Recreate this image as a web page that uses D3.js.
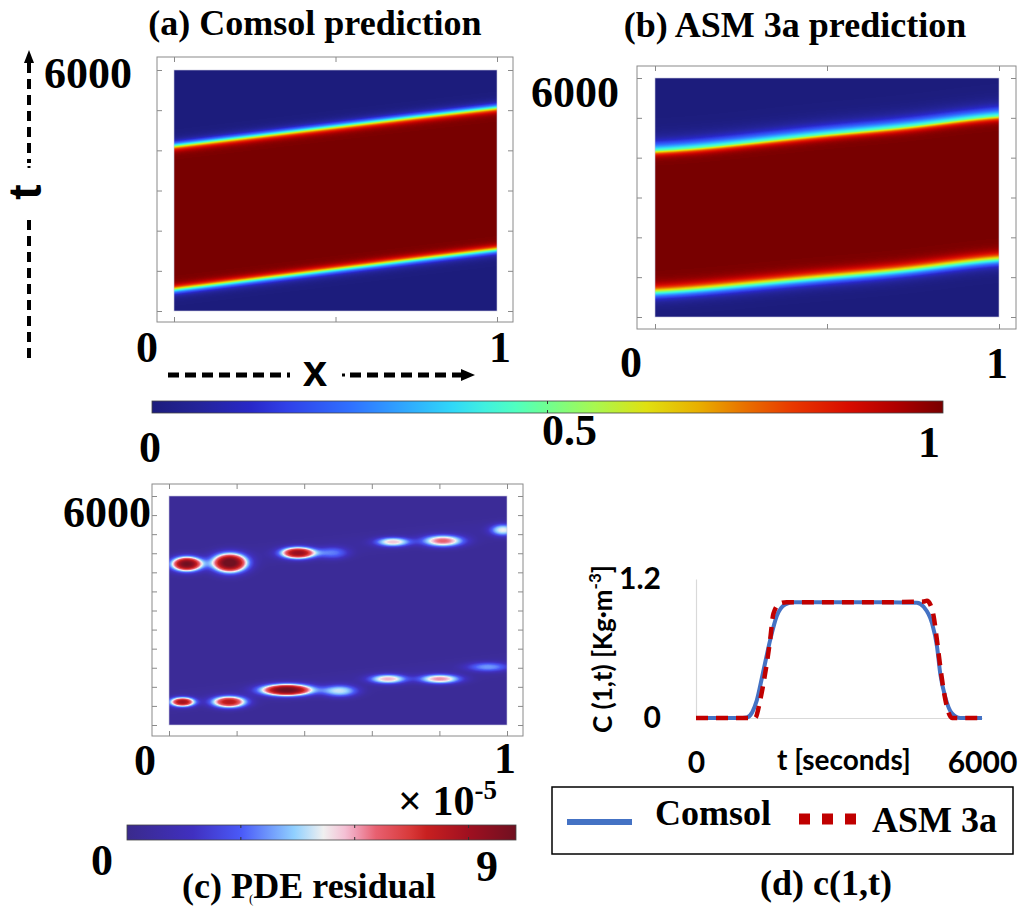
<!DOCTYPE html>
<html>
<head>
<meta charset="utf-8">
<script src="https://cdn.jsdelivr.net/npm/d3@7"></script>
<style>
body { margin: 0; background: #fff; }
svg { display: block; }
text { font-family: "Liberation Serif", "Times New Roman", serif; font-weight: bold; fill: #000; }
.sans { font-family: Lato, "Open Sans", sans-serif; }
.arial { font-family: "Liberation Sans", Arial, sans-serif; }
</style>
</head>
<body>
<div id="chart-area"></div>
<script>
// ---- data ----
// front positions (t in s) of the pulse at sampled x
var frontX = [0, 0.25, 0.5, 0.75, 1];
var comsolLower = [530, 780, 1030, 1280, 1525];
var comsolUpper = [4110, 4350, 4590, 4830, 5060];
var asmLower = [590, 795, 1000, 1170, 1500];
var asmUpper = [4140, 4350, 4600, 4770, 5100];

// PDE residual hot spots (x, t, peak in 1e-5, half sizes)
var blobX = [0.053, 0.180, 0.382, 0.485, 0.663, 0.811, 0.988, 0.040, 0.178, 0.349, 0.506, 0.648, 0.802, 0.944];
var blobT = [4218, 4245, 4507, 4507, 4795, 4821, 5109, 603, 603, 917, 891, 1205, 1205, 1520];
var blobPeak = [9.6, 10.1, 8.6, 2.8, 5.0, 6.0, 4.5, 8.2, 7.8, 9.7, 4.3, 5.2, 5.6, 3.1];
var blobHx = [0.044, 0.050, 0.050, 0.044, 0.050, 0.059, 0.036, 0.036, 0.050, 0.074, 0.050, 0.053, 0.059, 0.059];
var blobHt = [160, 210, 130, 130, 105, 130, 130, 105, 130, 130, 130, 105, 105, 105];

// c(1,t) curves
var comsolT = [0, 900, 1064, 1180, 1274, 1400, 1554, 1694, 1869, 2044, 3000, 4000, 4634, 4775, 4950, 5055, 5125, 5230, 5370, 5545, 6000];
var comsolC = [0, 0, 0.005, 0.05, 0.15, 0.38, 0.67, 0.88, 0.98, 1.0, 1.0, 1.0, 0.995, 0.96, 0.82, 0.62, 0.38, 0.18, 0.04, 0, 0];
var asmT = [0, 1240, 1344, 1449, 1554, 1624, 1764, 1900, 3000, 4000, 4775, 4845, 4915, 4985, 5055, 5125, 5195, 5280, 5370, 6000];
var asmC = [0, 0, 0.15, 0.38, 0.67, 0.9, 0.99, 1.0, 1.0, 1.0, 1.005, 1.012, 0.98, 0.88, 0.67, 0.44, 0.24, 0.07, 0, 0];

// colour tables
var rainbowStops = [0, 0.06, 0.125, 0.17, 0.25, 0.31, 0.38, 0.42, 0.46, 0.5, 0.56, 0.625, 0.69, 0.75, 0.81, 0.88, 0.94, 1];
var rainbowColors = ["#1c1c7c", "#24249a", "#2828c8", "#3040e8", "#3070ff", "#30a0ff", "#30d8f8", "#40f0e0", "#50ffc0", "#70ff90", "#a8f850", "#e0e010", "#e8b000", "#e87000", "#e83800", "#d80c00", "#b00000", "#780000"];
var resStops = [0, 0.17, 0.294, 0.43, 0.505, 0.56, 0.586, 0.64, 0.73, 0.77, 0.877, 1];
var resColors = ["#3a2a8c", "#4030c0", "#4a5af8", "#90d0ff", "#f0f0f0", "#f4c0d4", "#f0a0b8", "#e86070", "#d83838", "#c82020", "#a01020", "#701020"];
var resMax = 10.25;

var svg = d3.select("#chart-area").append("svg")
  .attr("width", 1021).attr("height", 908);
svg.append("rect").attr("width", 1021).attr("height", 908).attr("fill", "#fff");
var defs = svg.append("defs");

function lut(stops, colors) {
  var s = d3.scaleLinear().domain(stops).range(colors).interpolate(d3.interpolateRgb).clamp(true);
  var out = [];
  for (var i = 0; i < 256; i++) out.push(d3.rgb(s(i / 255)));
  return function(v) { return out[Math.max(0, Math.min(255, Math.round(v * 255)))]; };
}
var rainbow = lut(rainbowStops, rainbowColors);
var resCol = lut(resStops, resColors);

function heat(xs, ts, field, color) {
  var x0 = xs.range()[0], x1 = xs.range()[1], y0 = ts.range()[1], y1 = ts.range()[0];
  var w = Math.round(x1 - x0), h = Math.round(y1 - y0);
  var cv = document.createElement("canvas");
  cv.width = w; cv.height = h;
  var ctx = cv.getContext("2d");
  var img = ctx.createImageData(w, h);
  for (var j = 0; j < h; j++) {
    var tv = ts.invert(y0 + j + 0.5);
    for (var i = 0; i < w; i++) {
      var c = color(field(xs.invert(x0 + i + 0.5), tv));
      var k = (j * w + i) * 4;
      img.data[k] = c.r; img.data[k + 1] = c.g; img.data[k + 2] = c.b; img.data[k + 3] = 255;
    }
  }
  ctx.putImageData(img, 0, 0);
  svg.append("image").attr("x", x0).attr("y", y0).attr("width", w).attr("height", h)
    .attr("preserveAspectRatio", "none").attr("href", cv.toDataURL());
  svg.append("rect").attr("x", x0).attr("y", y0).attr("width", w).attr("height", h)
    .attr("fill", "none").attr("stroke", "#c8c8dc").attr("stroke-width", 0.6);
}

function frame(box, xs, ts, xticks, tticks) {
  svg.append("rect").attr("x", box[0]).attr("y", box[1])
    .attr("width", box[2] - box[0]).attr("height", box[3] - box[1])
    .attr("fill", "none").attr("stroke", "#8a8a8a").attr("stroke-width", 1);
  var axes = [
    [d3.axisTop(xs).tickValues(xticks), "translate(0," + box[3] + ")"],
    [d3.axisBottom(xs).tickValues(xticks), "translate(0," + box[1] + ")"],
    [d3.axisRight(ts).tickValues(tticks), "translate(" + box[0] + ",0)"],
    [d3.axisLeft(ts).tickValues(tticks), "translate(" + box[2] + ",0)"]
  ];
  axes.forEach(function(a) {
    var g = svg.append("g").attr("transform", a[1]).call(a[0].tickSize(5).tickFormat(""));
    g.select(".domain").remove();
    g.selectAll("line").attr("stroke", "#8a8a8a");
  });
}

function sig(z) { return 1 / (1 + Math.exp(-z)); }

// smooth front through the read positions
function frontCurve(vals, smooth) {
  if (!smooth) return d3.scaleLinear().domain(frontX).range(vals);
  var f = d3.interpolateBasis([vals[0]].concat(vals, [vals[vals.length - 1]]));
  return function(x) { return f((x * (vals.length - 1) + 1) / (vals.length + 1)); };
}

function pulse(lower, upper, wlIn, wlOut, wuIn, wuOut, smooth) {
  var lo = frontCurve(lower, smooth);
  var up = frontCurve(upper, smooth);
  return function(x, t) {
    var tu = up(x), tl = lo(x);
    var wu = t > tu ? wuOut : wuIn;
    var wl = t < tl ? wlOut : wlIn;
    return sig((t - tl) / wl) * sig((tu - t) / wu);
  };
}

var tTicks = d3.range(0, 6001, 1000);

// ---- (a) Comsol prediction ----
var xA = d3.scaleLinear().domain([0, 1]).range([174, 497]);
var tA = d3.scaleLinear().domain([0, 6000]).range([311, 70]);
heat(xA, tA, pulse(comsolLower, comsolUpper, 55, 65, 55, 65, false), rainbow);
frame([157, 57, 513, 322], xA, tA, [0, 0.5, 1], tTicks);
svg.append("text").attr("x", 315).attr("y", 35).attr("text-anchor", "middle").attr("font-size", 36).text("(a) Comsol prediction");
svg.append("text").attr("x", 44).attr("y", 88).attr("font-size", 44).text("6000");
svg.append("text").attr("x", 136).attr("y", 362).attr("font-size", 44).text("0");
svg.append("text").attr("x", 489).attr("y", 362).attr("font-size", 44).text("1");

// axis arrows of (a)
var arrows = svg.append("g").attr("stroke", "#000").attr("fill", "none");
arrows.append("line").attr("x1", 29).attr("x2", 29).attr("y1", 63).attr("y2", 163)
  .attr("stroke-width", 4).attr("stroke-dasharray", "10,6");
arrows.append("line").attr("x1", 29).attr("x2", 29).attr("y1", 166).attr("y2", 168).attr("stroke-width", 3);
arrows.append("line").attr("x1", 29).attr("x2", 29).attr("y1", 220).attr("y2", 364)
  .attr("stroke-width", 4).attr("stroke-dasharray", "10,6");
svg.append("path").attr("d", "M29,50 L24,63 L34,63 Z").attr("fill", "#000");
arrows.append("line").attr("x1", 168).attr("x2", 290).attr("y1", 375).attr("y2", 375)
  .attr("stroke-width", 5).attr("stroke-dasharray", "11,6");
arrows.append("line").attr("x1", 342).attr("x2", 345).attr("y1", 375).attr("y2", 375).attr("stroke-width", 3);
arrows.append("line").attr("x1", 350).attr("x2", 462).attr("y1", 375).attr("y2", 375)
  .attr("stroke-width", 5).attr("stroke-dasharray", "11,6");
svg.append("path").attr("d", "M475,375 L461,369 L461,381 Z").attr("fill", "#000");
svg.append("text").attr("class", "arial").attr("x", 315).attr("y", 386).attr("text-anchor", "middle").attr("font-size", 44).text("x");
svg.append("text").attr("class", "arial").attr("transform", "translate(41,192) rotate(-90)")
  .attr("text-anchor", "middle").attr("font-size", 46).text("t");

// ---- (b) ASM 3a prediction ----
var xB = d3.scaleLinear().domain([0, 1]).range([655, 999]);
var tB = d3.scaleLinear().domain([0, 6000]).range([317, 78]);
heat(xB, tB, pulse(asmLower, asmUpper, 85, 95, 60, 130, true), rainbow);
frame([637, 66, 1016, 329], xB, tB, [0, 0.5, 1], tTicks);
svg.append("text").attr("x", 795).attr("y", 37).attr("text-anchor", "middle").attr("font-size", 36).text("(b) ASM 3a prediction");
svg.append("text").attr("x", 531).attr("y", 107).attr("font-size", 44).text("6000");
svg.append("text").attr("x", 620).attr("y", 377).attr("font-size", 44).text("0");
svg.append("text").attr("x", 986).attr("y", 378).attr("font-size", 44).text("1");

// ---- shared colour bar ----
var cbA = d3.scaleLinear().domain([0, 1]).range([152, 943]);
var gradA = defs.append("linearGradient").attr("id", "gradA");
gradA.selectAll("stop").data(rainbowStops).enter().append("stop")
  .attr("offset", function(d) { return d; })
  .attr("stop-color", function(d, i) { return rainbowColors[i]; });
svg.append("rect").attr("x", cbA(0)).attr("y", 401).attr("width", cbA(1) - cbA(0)).attr("height", 12)
  .attr("fill", "url(#gradA)").attr("stroke", "#444").attr("stroke-width", 0.8);
svg.append("line").attr("x1", cbA(0.5)).attr("x2", cbA(0.5)).attr("y1", 401).attr("y2", 413)
  .attr("stroke", "#333").attr("stroke-dasharray", "3,6");
svg.append("text").attr("x", 139).attr("y", 462).attr("font-size", 44).text("0");
svg.append("text").attr("x", 542).attr("y", 445).attr("font-size", 44).text("0.5");
svg.append("text").attr("x", 918).attr("y", 457).attr("font-size", 44).text("1");

// ---- (c) PDE residual ----
var xC = d3.scaleLinear().domain([0, 1]).range([169, 507]);
var tC = d3.scaleLinear().domain([0, 6000]).range([725, 496]);
var upperBand = d3.scaleLinear().domain(frontX).range(comsolUpper);
var lowerBand = d3.scaleLinear().domain(frontX).range(comsolLower);
function residual(x, t) {
  // faint glow along both fronts
  var du = (t - upperBand(x) - 80) / 260, dl = (t - lowerBand(x) - 60) / 260;
  var v = 0.35 + 0.3 * Math.exp(-du * du) + 0.3 * Math.exp(-dl * dl);
  for (var i = 0; i < blobX.length; i++) {
    var dx = (x - blobX[i]) / (blobHx[i] * 1.08), dt = (t - blobT[i]) / (blobHt[i] * 1.25);
    var r2 = dx * dx + dt * dt;
    v += blobPeak[i] * Math.exp(-Math.pow(r2, 1.25));
  }
  return v / resMax;
}
heat(xC, tC, residual, resCol);
frame([152, 484, 523, 736], xC, tC, d3.range(0, 1.01, 0.2), d3.range(0, 6001, 500));
svg.append("text").attr("x", 151).attr("y", 527).attr("text-anchor", "end").attr("font-size", 44).text("6000");
svg.append("text").attr("x", 134).attr("y", 775).attr("font-size", 44).text("0");
svg.append("text").attr("x", 494).attr("y", 773).attr("font-size", 44).text("1");
var mult = svg.append("text").attr("x", 398).attr("y", 815).attr("font-size", 42);
mult.append("tspan").text("× 10");
mult.append("tspan").attr("font-size", 27).attr("dy", -16).text("-5");

var cbC = d3.scaleLinear().domain([0, resMax]).range([127, 516]);
var gradC = defs.append("linearGradient").attr("id", "gradC");
gradC.selectAll("stop").data(resStops).enter().append("stop")
  .attr("offset", function(d) { return d; })
  .attr("stop-color", function(d, i) { return resColors[i]; });
svg.append("rect").attr("x", cbC(0)).attr("y", 825).attr("width", cbC(resMax) - cbC(0)).attr("height", 15)
  .attr("fill", "url(#gradC)").attr("stroke", "#444").attr("stroke-width", 0.8);
svg.selectAll(".cbtick").data([3, 6, 9]).enter().append("line")
  .attr("x1", function(d) { return cbC(d); }).attr("x2", function(d) { return cbC(d); })
  .attr("y1", 825).attr("y2", 840).attr("stroke", "#333").attr("stroke-dasharray", "3,9");
svg.append("text").attr("x", 91).attr("y", 875).attr("font-size", 44).text("0");
svg.append("text").attr("x", 476).attr("y", 881).attr("font-size", 44).text("9");
var capC = svg.append("text").attr("x", 182).attr("y", 898).attr("font-size", 36);
capC.append("tspan").text("(c) P");
capC.append("tspan").attr("font-size", 13).attr("font-weight", "normal").attr("dx", -4).attr("dy", 5).text("(");
capC.append("tspan").attr("dx", 0).attr("dy", -5).text("DE residual");

// ---- (d) c(1,t) ----
var xD = d3.scaleLinear().domain([0, 6000]).range([696, 982]);
var yD = d3.scaleLinear().domain([0, 1.2]).range([718, 579]);
var gy = svg.append("g").attr("transform", "translate(696,0)")
  .call(d3.axisLeft(yD).tickValues([0, 1.2]).tickSize(0).tickPadding(35).tickFormat(function(d) { return d === 0 ? "0" : "1.2"; }));
var gx = svg.append("g").attr("transform", "translate(0,718)")
  .call(d3.axisBottom(xD).tickValues([0, 6000]).tickSize(0).tickPadding(34).tickFormat(d3.format("d")));
[gx, gy].forEach(function(g) {
  g.select(".domain").attr("stroke", "#d9d9d9").attr("stroke-width", 1.2);
  g.selectAll("text").attr("class", "sans").attr("font-size", 30).attr("font-weight", "bold").attr("fill", "#000");
});

var line = d3.line().x(function(d) { return xD(d[0]); }).y(function(d) { return yD(d[1]); }).curve(d3.curveMonotoneX);
svg.append("path").datum(d3.zip(comsolT, comsolC)).attr("d", line)
  .attr("fill", "none").attr("stroke", "#4472c4").attr("stroke-width", 4);
svg.append("path").datum(d3.zip(asmT, asmC)).attr("d", line)
  .attr("fill", "none").attr("stroke", "#c00000").attr("stroke-width", 4.5).attr("stroke-dasharray", "12,8");

var ytitle = svg.append("text").attr("class", "sans").attr("transform", "translate(612,733) rotate(-90)")
  .attr("font-size", 26);
ytitle.append("tspan").text("C (1,t) [Kg·m");
ytitle.append("tspan").attr("font-size", 17).attr("dy", -11).text("-3");
ytitle.append("tspan").attr("dy", 11).text("]");
svg.append("text").attr("class", "sans").attr("x", 777).attr("y", 770).attr("font-size", 28).text("t [seconds]");

// legend
svg.append("rect").attr("x", 552).attr("y", 787).attr("width", 461).attr("height", 67)
  .attr("fill", "none").attr("stroke", "#000").attr("stroke-width", 1.5);
svg.append("line").attr("x1", 567).attr("x2", 632).attr("y1", 822).attr("y2", 822)
  .attr("stroke", "#4472c4").attr("stroke-width", 6);
svg.append("text").attr("x", 655).attr("y", 825).attr("font-size", 36).text("Comsol");
svg.append("line").attr("x1", 799).attr("x2", 857).attr("y1", 819).attr("y2", 819)
  .attr("stroke", "#c00000").attr("stroke-width", 11).attr("stroke-dasharray", "11,12");
svg.append("text").attr("x", 872).attr("y", 832).attr("font-size", 36).text("ASM 3a");
svg.append("text").attr("x", 760).attr("y", 895).attr("font-size", 36).text("(d) c(1,t)");
</script>
</body>
</html>
